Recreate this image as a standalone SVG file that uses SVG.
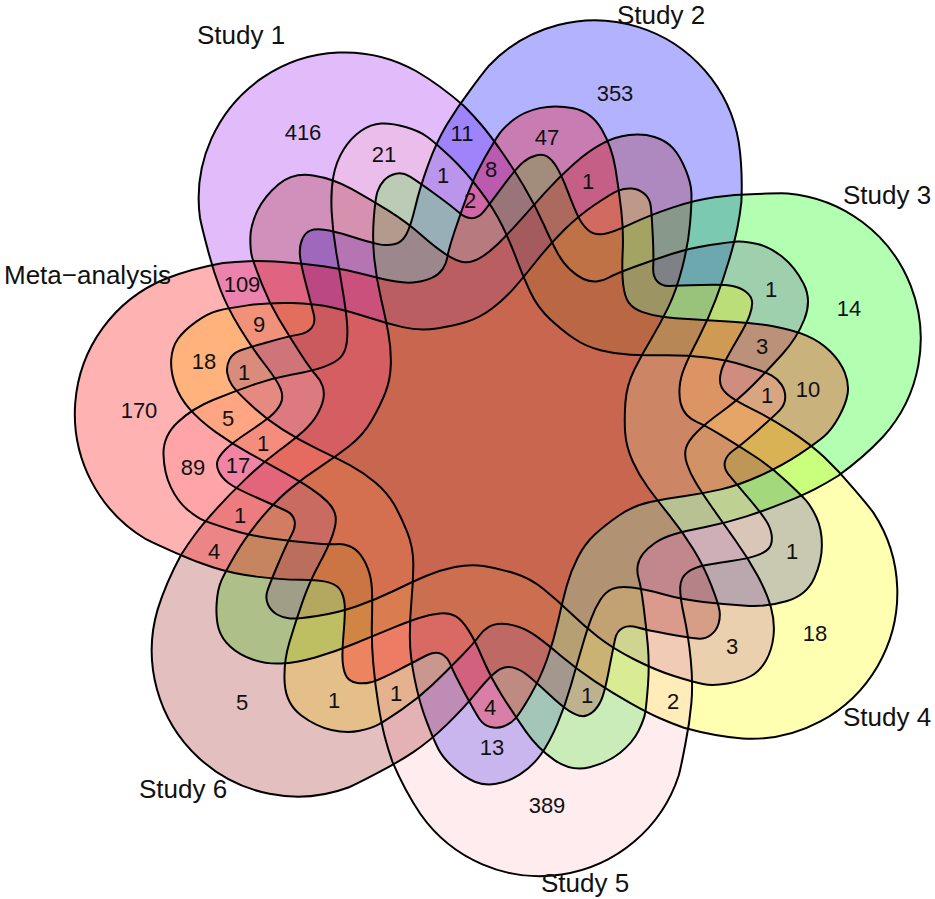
<svg xmlns="http://www.w3.org/2000/svg" width="935" height="899" viewBox="0 0 935 899">
<style>
.f{fill-opacity:.3;stroke:none}
.o{fill:none;stroke:#000;stroke-width:2;stroke-linejoin:round}
text{font-family:"Liberation Sans",Arial,sans-serif;fill:#111}
.n{font-size:22px;text-anchor:middle}
.l{font-size:26px}
</style>
<defs>
<path id="c" d="M200,218A146,146 0 0 1 416,71Q440,85 464,106Q473,115 481.5,125Q490,135 501.5,151.5Q513,168 524,186.5Q535,205 543.5,224Q552,243 557.5,253Q563,263 570,269.5Q577,276 583.5,279Q590,282 596.5,281.5Q603,281 609,277.5Q615,274 634,267Q653,260 671.5,254Q690,248 710,245Q730,242 737.5,241.5Q745,241 757.5,244Q770,247 782.5,257Q795,267 803.5,283.5Q812,300 804.5,319Q797,338 782.5,354Q768,370 753,385Q738,400 722,411.5Q706,423 697,432Q688,441 686,448Q684,455 687,464Q690,473 696,483Q702,493 712.5,508Q723,523 735.5,540.5Q748,558 757.5,575.5Q767,593 771,607.5Q775,622 773.5,636Q772,650 766,660.5Q760,671 751,676Q742,681 727.5,683.5Q713,686 703,684Q693,682 674,676Q655,670 633.5,659Q612,648 597.5,636.5Q583,625 570,612.5Q557,600 543.5,589Q530,578 513.5,573Q497,568 483.5,566Q470,564 455,567Q440,570 426,576Q412,582 393.5,591Q375,600 356,606.5Q337,613 317,616Q297,619 290,618.5Q283,618 277,614.5Q271,611 268,604.5Q265,598 267.5,590.5Q270,583 278.5,563Q287,543 291.5,535Q296,527 294.5,520.5Q293,514 285.5,510.5Q278,507 256.5,497.5Q235,488 228.5,483Q222,478 219,472Q216,466 217.5,461Q219,456 225.5,449.5Q232,443 247,433Q262,423 269.5,417Q277,411 280.5,404Q284,397 280.5,388.5Q277,380 264.5,364Q252,348 239.5,327.5Q227,307 220,288.5Q213,270 207.5,248.5Q202,228 200,218Z"/>
</defs>
<g id="sets">
<g id="study-1"><use href="#c" class="f" fill="#a020f0"/></g>
<g id="study-2"><use href="#c" class="f" fill="#0000ff" transform="rotate(51.429 503 442)"/></g>
<g id="study-3"><use href="#c" class="f" fill="#00ff00" transform="translate(-1,-3) rotate(102.857 503 442)"/></g>
<g id="study-4"><use href="#c" class="f" fill="#ffff00" transform="rotate(154.286 503 442)"/></g>
<g id="study-5"><use href="#c" class="f" fill="#ffc0cb" transform="rotate(205.714 503 442)"/></g>
<g id="study-6"><use href="#c" class="f" fill="#a52a2a" transform="translate(-3,0) rotate(257.143 503 442)"/></g>
<g id="meta-analysis"><use href="#c" class="f" fill="#ff0000" transform="translate(7,0) rotate(308.571 503 442)"/></g>
</g>
<g id="outlines">
<use href="#c" class="o"/>
<use href="#c" class="o" transform="rotate(51.429 503 442)"/>
<use href="#c" class="o" transform="translate(-1,-3) rotate(102.857 503 442)"/>
<use href="#c" class="o" transform="rotate(154.286 503 442)"/>
<use href="#c" class="o" transform="rotate(205.714 503 442)"/>
<use href="#c" class="o" transform="translate(-3,0) rotate(257.143 503 442)"/>
<use href="#c" class="o" transform="translate(7,0) rotate(308.571 503 442)"/>
</g>
<g id="set-labels" class="l">
<text x="197" y="44">Study 1</text>
<text x="617" y="24">Study 2</text>
<text x="843" y="204">Study 3</text>
<text x="843" y="726">Study 4</text>
<text x="541" y="892">Study 5</text>
<text x="139" y="798">Study 6</text>
<text x="4" y="284">Meta−analysis</text>
</g>
<g id="counts" class="n">
<text x="303" y="140">416</text><text x="384" y="162">21</text><text x="462" y="141">11</text><text x="443" y="183">1</text><text x="491" y="177">8</text><text x="470" y="208">2</text>
<text x="547" y="145">47</text><text x="615" y="101">353</text><text x="588" y="189">1</text>
<text x="849" y="316">14</text><text x="771" y="297">1</text><text x="762" y="354">3</text><text x="808" y="397">10</text><text x="767" y="403">1</text>
<text x="792" y="559">1</text><text x="815" y="641">18</text><text x="732" y="654">3</text><text x="673" y="709">2</text>
<text x="587" y="703">1</text><text x="547" y="813">389</text><text x="492" y="755">13</text><text x="490" y="715">4</text>
<text x="396" y="701">1</text><text x="334" y="708">1</text><text x="242" y="710">5</text>
<text x="214" y="559">4</text><text x="240" y="523">1</text><text x="238" y="473">17</text><text x="193" y="475">89</text><text x="263" y="451">1</text><text x="228" y="426">5</text><text x="139" y="418">170</text><text x="204" y="369">18</text><text x="244" y="380">1</text><text x="259" y="332">9</text><text x="242" y="292">109</text>
</g>
</svg>
